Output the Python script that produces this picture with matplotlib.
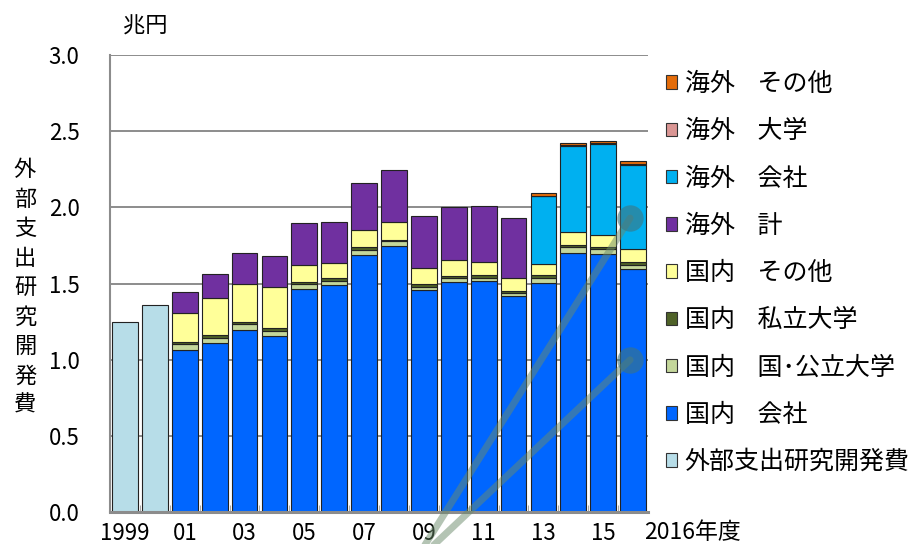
import numpy as np
import matplotlib
matplotlib.use("Agg")
import matplotlib.pyplot as plt
from matplotlib.patches import Patch

plt.rcParams["font.family"] = ["Noto Sans CJK JP", "DejaVu Sans"]

# 年度 1999-2016
years = list(range(1999, 2017))
tick_labels = ["1999", "", "01", "", "03", "", "05", "", "07", "", "09", "",
               "11", "", "13", "", "15", ""]

# 1999-2000: 外部支出研究開発費 (内訳なし)
total_early = [1.25, 1.36]

# 2001-2016 国内
dom_company = [1.066, 1.110, 1.195, 1.156, 1.465, 1.488, 1.687, 1.744,
               1.455, 1.510, 1.517, 1.420, 1.503, 1.700, 1.694, 1.595]
dom_public_univ = [0.037, 0.032, 0.037, 0.036, 0.033, 0.031, 0.035, 0.033,
                   0.026, 0.026, 0.023, 0.018, 0.033, 0.037, 0.033, 0.029]
dom_private_univ = [0.011, 0.020, 0.018, 0.016, 0.015, 0.017, 0.015, 0.011,
                    0.016, 0.016, 0.016, 0.015, 0.020, 0.016, 0.013, 0.015]
dom_other = [0.193, 0.243, 0.247, 0.267, 0.108, 0.099, 0.112, 0.116,
             0.105, 0.100, 0.083, 0.081, 0.070, 0.085, 0.081, 0.085]

# 2001-2012 海外 計
ovs_total = [0.138, 0.158, 0.204, 0.203, 0.277, 0.271, 0.311, 0.339,
             0.343, 0.348, 0.372, 0.394]

# 2013-2016 海外 内訳
ovs_company = [0.446, 0.563, 0.593, 0.554]
ovs_univ = [0.005, 0.006, 0.006, 0.006]
ovs_other = [0.017, 0.016, 0.018, 0.018]

labels = ["外部支出研究開発費", "国内    会社", "国内    国･公立大学", "国内    私立大学",
          "国内    その他", "海外    計", "海外    会社", "海外    大学", "海外    その他"]
colors = ["#B7DDE8", "#0066FF", "#C4D79B", "#4F6228", "#FFFF99",
          "#7030A0", "#00B0F0", "#DA9694", "#E46C0A"]

# 引き出し線 (元図に残っている吹き出しの線)
leader_origin = (9.6, -0.35)
leader_tips = [(16.9, 1.93), (16.9, 1.0)]

fig = plt.figure(figsize=(9.17, 5.44), dpi=100)
ax = fig.add_axes([0.12, 0.0583, 0.5867, 0.8407])

x = np.arange(len(years))
w = 0.86
ec = "#222222"
lw = 0.8

ax.bar(x[:2], total_early, w, color=colors[0], edgecolor=ec, linewidth=lw, zorder=3)

bottom = np.zeros(len(dom_company))
for vals, c in zip([dom_company, dom_public_univ, dom_private_univ, dom_other], colors[1:5]):
    ax.bar(x[2:], vals, w, bottom=bottom, color=c, edgecolor=ec, linewidth=lw, zorder=3)
    bottom += np.array(vals)

ax.bar(x[2:14], ovs_total, w, bottom=bottom[:12], color=colors[5],
       edgecolor=ec, linewidth=lw, zorder=3)

b2 = bottom[12:].copy()
for vals, c in zip([ovs_company, ovs_univ, ovs_other], colors[6:]):
    ax.bar(x[14:], vals, w, bottom=b2, color=c, edgecolor=ec, linewidth=lw, zorder=3)
    b2 += np.array(vals)

# 引き出し線
for tx, ty in leader_tips:
    ax.plot([leader_origin[0], tx], [leader_origin[1], ty], color="#6b8a6b",
            alpha=0.5, lw=5, solid_capstyle="round", clip_on=False, zorder=5)
    ax.plot(tx, ty, "o", color="#3f7580", alpha=0.6, ms=19, mew=0,
            clip_on=False, zorder=5)

ax.set_xlim(-0.5, 17.5)
ax.set_ylim(0, 3.0)
ax.set_yticks(np.arange(0, 3.01, 0.5))
ax.set_yticklabels([f"{v:.1f}" for v in np.arange(0, 3.01, 0.5)])
ax.yaxis.grid(True, color="#8c8c8c", lw=1.4, zorder=0)
ax.set_axisbelow(True)

ax.set_xticks(x)
ax.set_xticklabels(tick_labels)
ax.set_xticks(x[:-1] + 0.5, minor=True)
ax.tick_params(axis="x", which="major", length=0, pad=7, labelsize=16)
ax.tick_params(axis="x", which="minor", direction="in", length=5, color="#999999")
ax.tick_params(axis="y", length=0, pad=22, labelsize=16)

for s in ["top", "right"]:
    ax.spines[s].set_visible(False)
ax.spines["left"].set_color("#8c8c8c")
ax.spines["left"].set_linewidth(1.5)
ax.spines["bottom"].set_color("#8c8c8c")
ax.spines["bottom"].set_linewidth(2.2)
ax.spines["bottom"].set_zorder(4)

ax.text(0.992, -0.02, "2016年度", transform=ax.transAxes, ha="left", va="top",
        fontsize=16.5)

fig.text(145 / 917, 1 - 26 / 544, "兆円", ha="center", va="center", fontsize=16)

ylab = "外部支出研究開発費"
for i, ch in enumerate(ylab):
    fig.text(25 / 917, 1 - (170 + i * 29.4) / 544, ch, ha="center", va="center",
             fontsize=16)

handles = [Patch(facecolor=c, edgecolor="#333333", linewidth=0.8) for c in colors]
leg = fig.legend(handles[::-1], labels[::-1], loc="upper left",
                 bbox_to_anchor=(666 / 917, 1 - 71 / 544), frameon=False,
                 fontsize=18, handlelength=0.45, handleheight=0.45,
                 handletextpad=0.3, labelspacing=0.85, borderpad=0, borderaxespad=0)

fig.savefig("out.png", dpi=100)
